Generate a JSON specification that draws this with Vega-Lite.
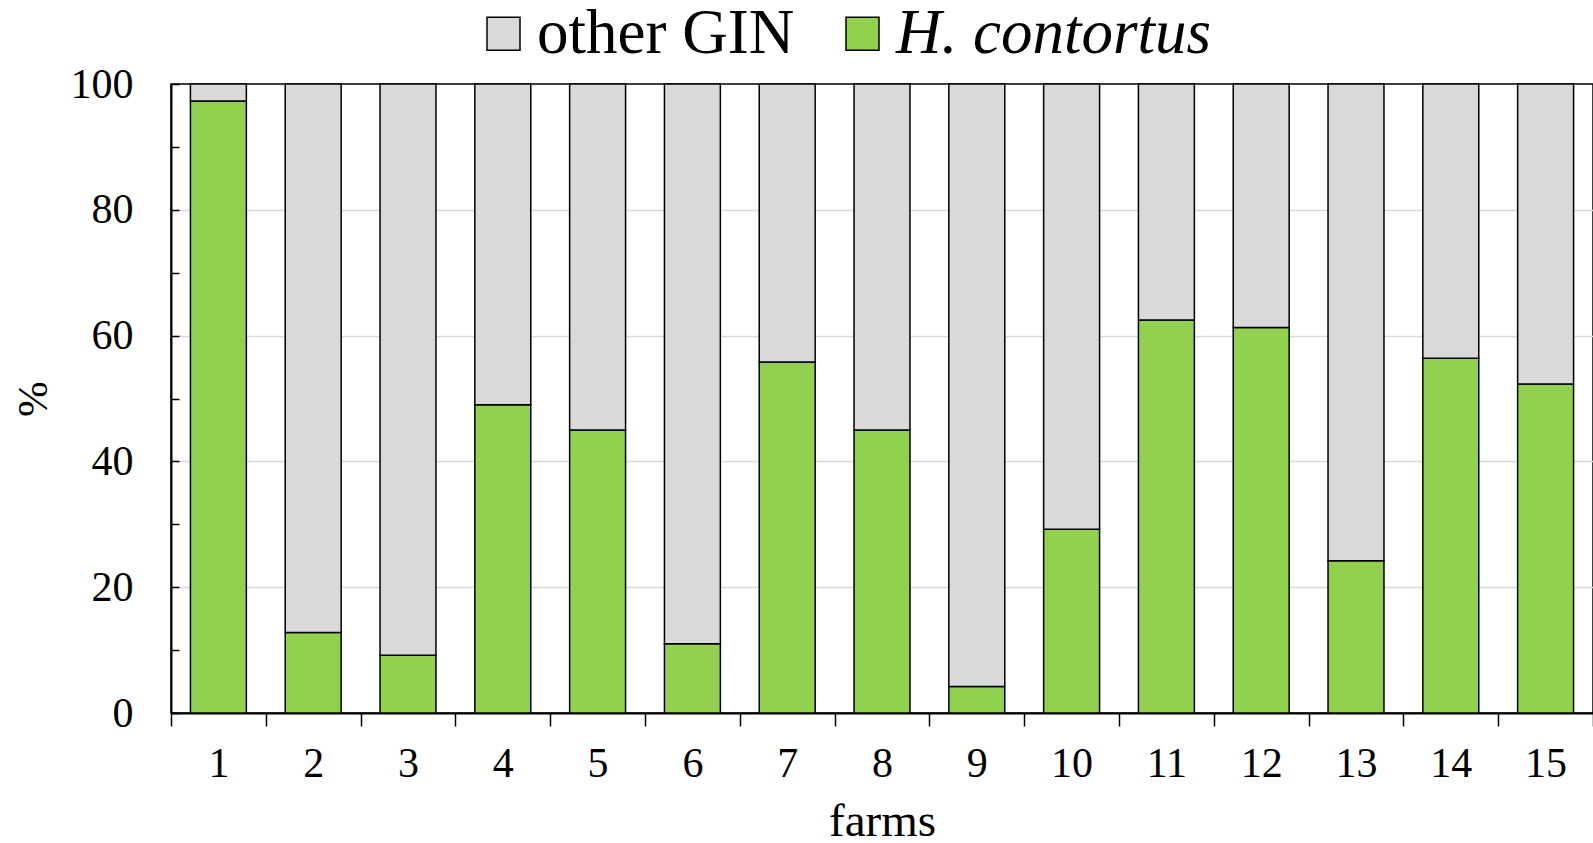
{
  "$schema": "https://vega.github.io/schema/vega-lite/v6.json",
  "width": 1422,
  "height": 629,
  "autosize": "none",
  "padding": {"left": 171, "top": 84, "right": 0, "bottom": 130},
  "background": "white",
  "config": {
    "font": "Liberation Serif",
    "view": {"stroke": "black", "strokeWidth": 1.5}
  },
  "data": {
    "values": [
      {"farm": "1", "series": "H. contortus", "pct": 97.3},
      {"farm": "1", "series": "other GIN", "pct": 2.7},
      {"farm": "2", "series": "H. contortus", "pct": 12.8},
      {"farm": "2", "series": "other GIN", "pct": 87.2},
      {"farm": "3", "series": "H. contortus", "pct": 9.2},
      {"farm": "3", "series": "other GIN", "pct": 90.8},
      {"farm": "4", "series": "H. contortus", "pct": 49.0},
      {"farm": "4", "series": "other GIN", "pct": 51.0},
      {"farm": "5", "series": "H. contortus", "pct": 45.0},
      {"farm": "5", "series": "other GIN", "pct": 55.0},
      {"farm": "6", "series": "H. contortus", "pct": 11.0},
      {"farm": "6", "series": "other GIN", "pct": 89.0},
      {"farm": "7", "series": "H. contortus", "pct": 55.8},
      {"farm": "7", "series": "other GIN", "pct": 44.2},
      {"farm": "8", "series": "H. contortus", "pct": 45.0},
      {"farm": "8", "series": "other GIN", "pct": 55.0},
      {"farm": "9", "series": "H. contortus", "pct": 4.2},
      {"farm": "9", "series": "other GIN", "pct": 95.8},
      {"farm": "10", "series": "H. contortus", "pct": 29.2},
      {"farm": "10", "series": "other GIN", "pct": 70.8},
      {"farm": "11", "series": "H. contortus", "pct": 62.5},
      {"farm": "11", "series": "other GIN", "pct": 37.5},
      {"farm": "12", "series": "H. contortus", "pct": 61.3},
      {"farm": "12", "series": "other GIN", "pct": 38.7},
      {"farm": "13", "series": "H. contortus", "pct": 24.2},
      {"farm": "13", "series": "other GIN", "pct": 75.8},
      {"farm": "14", "series": "H. contortus", "pct": 56.4},
      {"farm": "14", "series": "other GIN", "pct": 43.6},
      {"farm": "15", "series": "H. contortus", "pct": 52.3},
      {"farm": "15", "series": "other GIN", "pct": 47.7}
    ]
  },
  "mark": {"type": "bar", "stroke": "black", "strokeWidth": 1.5, "width": {"band": 0.59}},
  "encoding": {
    "x": {
      "field": "farm",
      "type": "ordinal",
      "sort": null,
      "scale": {"paddingInner": 0, "paddingOuter": 0},
      "axis": {
        "title": "farms",
        "titleFont": "Liberation Serif",
        "titleFontSize": 47,
        "titleFontWeight": "normal",
        "titleColor": "black",
        "titlePadding": 14,
        "labelFont": "Liberation Serif",
        "labelFontSize": 42,
        "labelColor": "black",
        "labelAngle": 0,
        "labelPadding": 17,
        "tickBand": "extent",
        "tickSize": 13,
        "tickColor": "black",
        "tickWidth": 1.5,
        "domainColor": "black",
        "domainWidth": 2,
        "grid": false
      }
    },
    "y": {
      "field": "pct",
      "type": "quantitative",
      "stack": "zero",
      "scale": {"domain": [0, 100], "nice": false},
      "axis": {
        "title": "%",
        "titleFont": "Liberation Serif",
        "titleFontSize": 43,
        "titleFontWeight": "normal",
        "titleColor": "black",
        "titlePadding": 15,
        "labelFont": "Liberation Serif",
        "labelFontSize": 42,
        "labelColor": "black",
        "labelPadding": 46,
        "values": [0, 10, 20, 30, 40, 50, 60, 70, 80, 90, 100],
        "labelExpr": "datum.value % 20 == 0 ? datum.label : ''",
        "tickSize": -8,
        "tickColor": "black",
        "tickWidth": 1.5,
        "domainColor": "black",
        "domainWidth": 2,
        "grid": true,
        "gridColor": {"condition": {"test": "datum.value % 20 != 0 || datum.value == 0 || datum.value == 100", "value": "transparent"}, "value": "#d9d9d9"},
        "gridWidth": 1.5
      }
    },
    "color": {
      "field": "series",
      "type": "nominal",
      "scale": {"domain": ["other GIN", "H. contortus"], "range": ["#d9d9d9", "#92d050"]},
      "legend": {
        "title": null,
        "orient": "none",
        "direction": "horizontal",
        "legendX": 301,
        "legendY": -82,
        "symbolType": "square",
        "symbolSize": 1089,
        "symbolStrokeColor": "black",
        "symbolStrokeWidth": 1.5,
        "symbolOpacity": 1,
        "labelFont": "Liberation Serif",
        "labelFontSize": 63,
        "labelColor": "black",
        "labelOffset": 2,
        "labelLimit": 0,
        "columnPadding": 36,
        "labelFontStyle": {"expr": "datum.label == 'H. contortus' ? 'italic' : 'normal'"}
      }
    },
    "order": {"field": "series", "sort": "ascending"}
  }
}
